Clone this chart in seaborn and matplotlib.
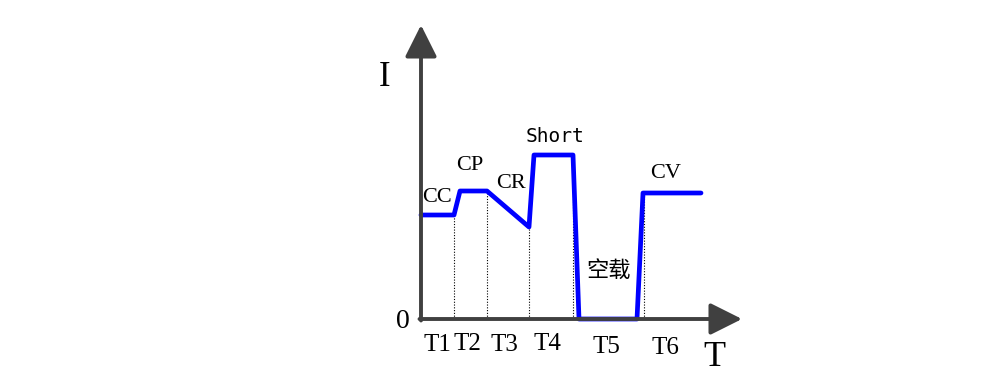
import matplotlib
matplotlib.use('Agg')
import matplotlib.pyplot as plt
import seaborn as sns
import pandas as pd

# 전류 프로파일 (T: 시간, I: 전류) - 그림에서 읽은 값
t = [0, 33, 39, 66, 108, 113, 152, 158, 216, 222, 280]
cur = [104, 104, 128, 128, 92, 164, 164, 0, 0, 126, 126]

# 구간 경계 (점선)
t_edge = [33, 66, 108, 152, 223]
cur_edge = [104, 128, 92, 164, 126]

# 모드 이름과 구간 이름
mode_names = ['CC', 'CP', 'CR', 'Short', '空载', 'CV']
seg_names = ['T1', 'T2', 'T3', 'T4', 'T5', 'T6']

df = pd.DataFrame({'T': t, 'I': cur})

sns.set_style('white')
plt.rcParams['font.family'] = ['Liberation Serif', 'Noto Sans CJK SC', 'DejaVu Sans']
plt.rcParams['text.color'] = 'black'

fig = plt.figure(figsize=(10, 3.91), dpi=100)
ax = fig.add_axes([0, 0, 1, 1])

# 점선
ax.vlines(t_edge, 0, cur_edge, colors='black', linestyles=(0, (1, 1.5)), linewidth=0.8, zorder=1)

# 파란 전류선
sns.lineplot(data=df, x='T', y='I', sort=False, color='#0000ff', linewidth=3.4, ax=ax, zorder=2)
ax.set_xlim(-421, 579)
ax.set_ylim(-72, 319)
ax.axis('off')

# 축 화살표
axis_col = '#404040'
arrow = dict(arrowstyle='-|>,head_length=1.4,head_width=0.7', mutation_scale=14,
             color=axis_col, lw=2.8, shrinkA=0, shrinkB=0)
ax.annotate('', xy=(0, 294), xytext=(0, -1.5), arrowprops=arrow, zorder=3)
ax.annotate('', xy=(321, 0), xytext=(-1.5, 0), arrowprops=arrow, zorder=3)

# 축 라벨
ax.text(-36, 242, 'I', fontsize=25, ha='center', va='center')
ax.text(-18, -2, '0', fontsize=20, ha='center', va='center')
ax.text(293, -38, 'T', fontsize=26, ha='center', va='center')

# 모드 라벨
mode_xy = [(16, 122), (49, 153), (90, 135), (134, 183), (188, 49), (245, 145)]
for name, (x, y) in zip(mode_names, mode_xy):
    fs = 16
    fam = ['Liberation Serif']
    if name == '空载':
        fam = ['Noto Sans CJK SC']
        fs = 16
    if name == 'Short':
        fam = ['DejaVu Sans Mono']
        fs = 14
    ax.text(x, y, name, fontsize=fs, family=fam, ha='center', va='center')

# 구간 라벨
seg_x = [16, 46, 83, 126, 185, 244]
seg_y = [-26, -25, -26, -25, -28, -29]
for name, x, y in zip(seg_names, seg_x, seg_y):
    ax.text(x, y, name, fontsize=18, ha='center', va='center')

fig.savefig('out.png', dpi=100)
